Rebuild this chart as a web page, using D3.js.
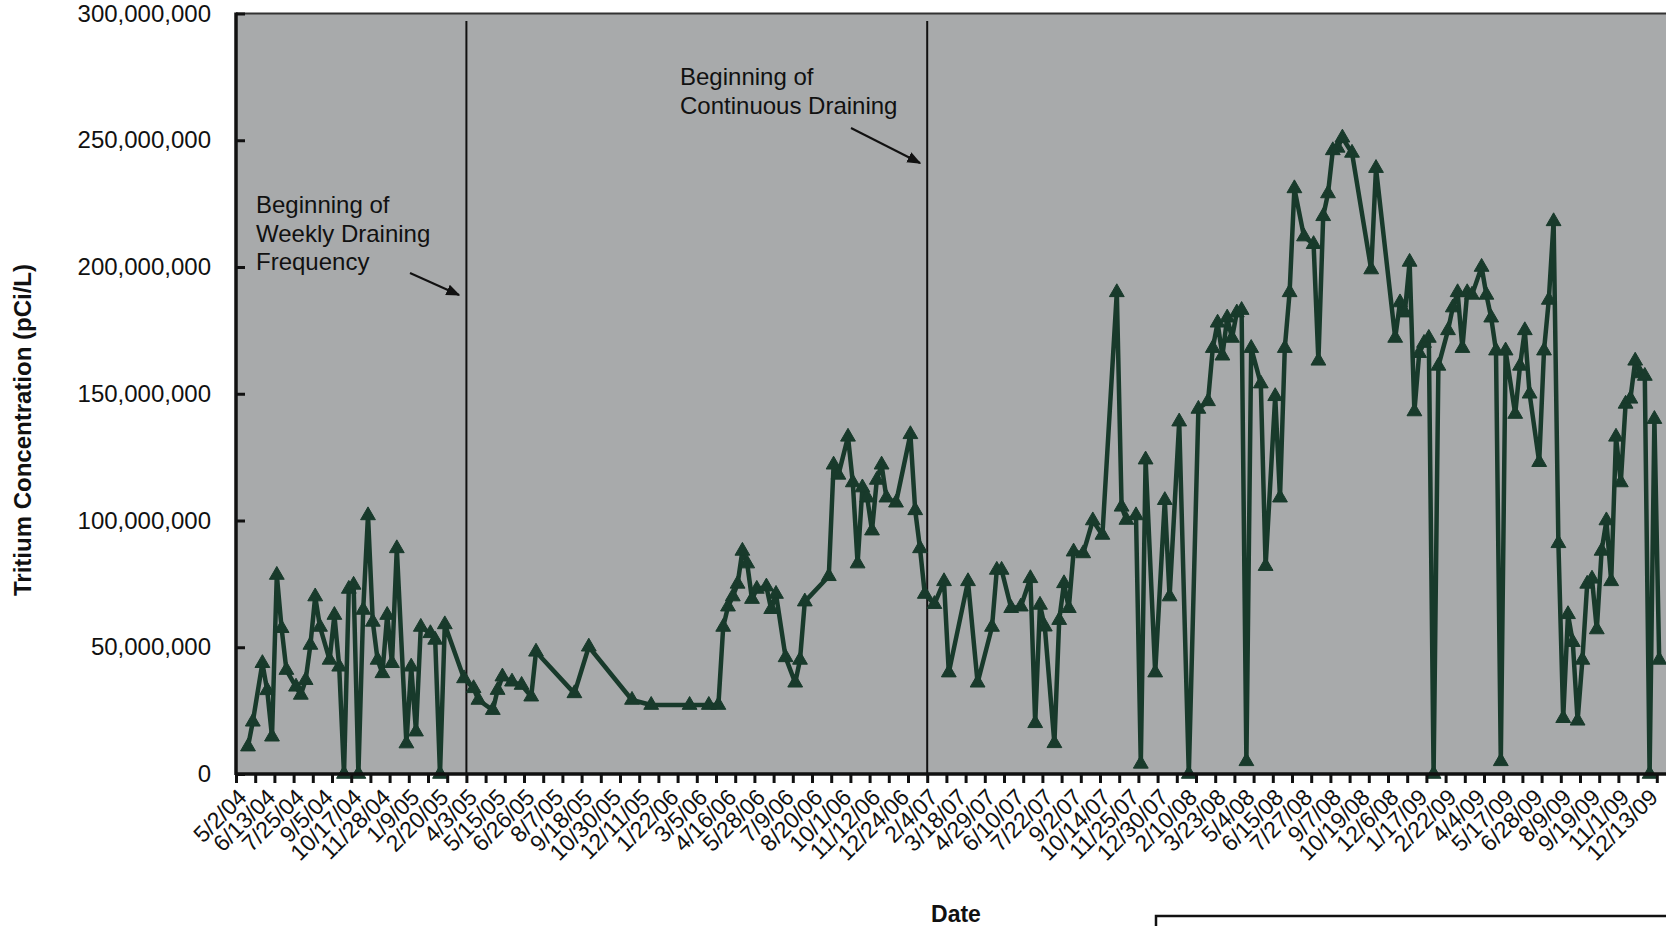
<!DOCTYPE html>
<html>
<head>
<meta charset="utf-8">
<script src="https://cdn.jsdelivr.net/npm/d3@7"></script>
<style>
  html, body { margin: 0; padding: 0; background: #ffffff; overflow: hidden; }
  svg { display: block; }
  text { font-family: "Liberation Sans", Arial, sans-serif; fill: #111; }
</style>
</head>
<body>
<svg id="chart" width="1666" height="926"></svg>
<script>
// ---------------- data ----------------
const tickLabels = ["5/2/04","6/13/04","7/25/04","9/5/04","10/17/04","11/28/04","1/9/05","2/20/05","4/3/05","5/15/05","6/26/05","8/7/05","9/18/05","10/30/05","12/11/05","1/22/06","3/5/06","4/16/06","5/28/06","7/9/06","8/20/06","10/1/06","11/12/06","12/24/06","2/4/07","3/18/07","4/29/07","6/10/07","7/22/07","9/2/07","10/14/07","11/25/07","12/30/07","2/10/08","3/23/08","5/4/08","6/15/08","7/27/08","9/7/08","10/19/08","12/6/08","1/17/09","2/22/09","4/4/09","5/17/09","6/28/09","8/9/09","9/19/09","11/1/09","12/13/09"];
const labelEvery = 6;          // one date label every 6 weekly categories
const tickEvery = 4;           // one tick mark every 4 categories
const categoryCount = 300;     // weekly sample slots on the category axis

// weekly sample slot of each measured point
const sampleSlot = [2,3,5,6,7,8,9,10,12,13,14,15,16,17,19,20,21,22,23,24,25,26,27,28,29,30,31,32,33,35,36,37,38,40,41,42,43,47,49,50,53,54,55,57,59,61,62,70,73,82,86,94,98,100,101,102,103,104,105,106,107,108,110,111,112,114,116,117,118,123,124,125,127,128,129,130,131,132,133,134,135,137,140,141,142,143,145,147,148,152,154,157,158,159,161,163,165,166,167,168,170,171,172,173,174,176,178,180,183,184,185,187,188,189,191,193,194,196,198,200,202,203,204,205,206,207,208,209,210,211,213,214,216,217,218,219,220,222,224,225,226,227,228,229,230,232,236,237,241,242,243,244,245,246,247,248,249,250,252,253,254,255,256,257,259,260,261,262,263,264,266,267,268,269,271,272,273,274,275,276,277,278,279,280,281,282,283,284,285,286,287,288,289,290,291,292,293,294,295,296];
// tritium concentration, pCi/L
const tritium = [10800000,20600000,43700000,33000000,14700000,78500000,57500000,41000000,34400000,31200000,37000000,50900000,70000000,58000000,45000000,62700000,42300000,0,73000000,74600000,0,64700000,102000000,60000000,45000000,39700000,62700000,43700000,89000000,12000000,42300000,16700000,58000000,55500000,52900000,0,59000000,37700000,33800000,29200000,25200000,33100000,38400000,36400000,35100000,30500000,48200000,31800000,50200000,29200000,27200000,27200000,27200000,27200000,58000000,66000000,70000000,75000000,88000000,83000000,69000000,73000000,73900000,65000000,71000000,46000000,36000000,45000000,68000000,78000000,122000000,118000000,133000000,115000000,83000000,113000000,109000000,96000000,116000000,122000000,109000000,107000000,134000000,104000000,89000000,71000000,67000000,76000000,40000000,76000000,36000000,58000000,80500000,80500000,65400000,66000000,77200000,20000000,66700000,58100000,12100000,60700000,75200000,65400000,87700000,87000000,100000000,94300000,190000000,105400000,100200000,102000000,4000000,124000000,40000000,108000000,70000000,139000000,0,144000000,147000000,168000000,178000000,165000000,180000000,172000000,182000000,183000000,5000000,168000000,154000000,82000000,149000000,109000000,168000000,190000000,231000000,212000000,209000000,163000000,220000000,229000000,246000000,247000000,251000000,245000000,199000000,239000000,172000000,186000000,182000000,202000000,143000000,166000000,170000000,172000000,0,161000000,175000000,184000000,190000000,168000000,190000000,189000000,200000000,189000000,180000000,167000000,5000000,167000000,142000000,161000000,175000000,150000000,123000000,167000000,187000000,218000000,91000000,22000000,63000000,52000000,21000000,45000000,75000000,77000000,57000000,88000000,100000000,76000000,133000000,115000000,146000000,148000000,163000000,158000000,157000000,0,140000000,45000000];

const yTicks = [0,50000000,100000000,150000000,200000000,250000000,300000000];
const markerSlots = [48, 144];   // vertical reference lines: 4/3/05 and 2/4/07
const annotations = [
  {lines:["Beginning of","Weekly Draining","Frequency"], x:256, y:213, from:[410,273], to:[459,295]},
  {lines:["Beginning of","Continuous Draining"], x:680, y:85, from:[851,128], to:[920,163]}
];

// ---------------- layout ----------------
const pL = 236, pT = 13.5, pB = 774, catW = 4.8;
const pR = pL + categoryCount * catW;
const svg = d3.select("#chart");

const xBand = d3.scaleBand().domain(d3.range(categoryCount)).range([pL, pR]).paddingInner(0).paddingOuter(0);
const xEdge = d3.scaleLinear().domain([0, categoryCount]).range([pL, pR]);
const y = d3.scaleLinear().domain([0, 300000000]).range([pB, pT]);
const cx = i => xBand(i) + xBand.bandwidth() / 2;

// plot area
svg.append("rect").attr("x", pL).attr("y", pT).attr("width", pR - pL).attr("height", pB - pT)
  .attr("fill", "#a8aaab");
svg.append("line").attr("x1", pL).attr("x2", pR).attr("y1", pT).attr("y2", pT)
  .attr("stroke", "#333").attr("stroke-width", 2);

// reference vertical lines
svg.selectAll("line.ref").data(markerSlots).enter().append("line").attr("class", "ref")
  .attr("x1", d => xEdge(d)).attr("x2", d => xEdge(d))
  .attr("y1", 21).attr("y2", pB)
  .attr("stroke", "#111").attr("stroke-width", 2);

// data line
const pts = sampleSlot.map((s, i) => ({s, v: tritium[i]}));
const line = d3.line().x(d => cx(d.s)).y(d => y(d.v));
const col = "#183a2b";
svg.append("path").datum(pts).attr("d", line)
  .attr("fill", "none").attr("stroke", col).attr("stroke-width", 4.5).attr("stroke-linejoin", "round");
const tri = d3.symbol().type(d3.symbolTriangle).size(95);
svg.selectAll("path.mk").data(pts).enter().append("path").attr("class", "mk")
  .attr("d", tri).attr("transform", d => `translate(${cx(d.s)},${y(d.v)})`)
  .attr("fill", col).attr("stroke", col).attr("stroke-width", 1);

// y axis
const yAxis = d3.axisLeft(y).tickValues(yTicks).tickFormat(d3.format(",")).tickSize(-9).tickPadding(25);
const gy = svg.append("g").attr("transform", `translate(${pL},0)`).call(yAxis);
gy.select(".domain").remove();
gy.selectAll(".tick line").attr("stroke", "#111").attr("stroke-width", 3);
gy.selectAll(".tick text").attr("font-size", 24).attr("font-family", "Liberation Sans, Arial, sans-serif").attr("fill", "#111");
svg.append("line").attr("x1", pL).attr("x2", pL).attr("y1", pT - 1).attr("y2", pB + 1)
  .attr("stroke", "#111").attr("stroke-width", 3.5);

// x axis ticks
const xTickAxis = d3.axisBottom(xEdge).tickValues(d3.range(0, categoryCount + 1, tickEvery)).tickFormat("").tickSize(9);
const gx = svg.append("g").attr("transform", `translate(0,${pB})`).call(xTickAxis);
gx.select(".domain").remove();
gx.selectAll(".tick line").attr("stroke", "#111").attr("stroke-width", 3);
svg.append("line").attr("x1", pL - 1).attr("x2", pR).attr("y1", pB).attr("y2", pB)
  .attr("stroke", "#111").attr("stroke-width", 3.5);

// x labels
const labelSlots = tickLabels.map((t, k) => k * labelEvery);
const xLabAxis = d3.axisBottom(xBand).tickValues(labelSlots).tickFormat(d => tickLabels[d / labelEvery]).tickSize(0).tickPadding(0);
const gl = svg.append("g").attr("transform", `translate(0,${pB})`).call(xLabAxis);
gl.select(".domain").remove();
gl.selectAll(".tick text")
  .attr("font-size", 23).attr("font-family", "Liberation Sans, Arial, sans-serif").attr("fill", "#111")
  .attr("text-anchor", "end").attr("y", 0).attr("dy", "0.35em")
  .attr("transform", "translate(4,19) rotate(-45)");

// axis titles
svg.append("text").attr("transform", "translate(31,430) rotate(-90)").attr("text-anchor", "middle")
  .attr("font-size", 24).attr("font-weight", "bold").text("Tritium Concentration (pCi/L)");
svg.append("text").attr("x", 956).attr("y", 922).attr("text-anchor", "middle")
  .attr("font-size", 23).attr("font-weight", "bold").text("Date");

// annotations
const defs = svg.append("defs");
defs.append("marker").attr("id", "ah").attr("viewBox", "0 0 10 10").attr("refX", 9).attr("refY", 5)
  .attr("markerWidth", 7).attr("markerHeight", 7).attr("orient", "auto")
  .append("path").attr("d", "M0,1 L10,5 L0,9 z").attr("fill", "#111");
annotations.forEach(a => {
  const t = svg.append("text").attr("x", a.x).attr("y", a.y).attr("font-size", 24);
  a.lines.forEach((l, i) => t.append("tspan").attr("x", a.x).attr("dy", i ? 28.5 : 0).text(l));
  svg.append("line").attr("x1", a.from[0]).attr("y1", a.from[1]).attr("x2", a.to[0]).attr("y2", a.to[1])
    .attr("stroke", "#111").attr("stroke-width", 2).attr("marker-end", "url(#ah)");
});

// legend frame (cut off at the bottom edge)
svg.append("rect").attr("x", 1156).attr("y", 916).attr("width", 600).attr("height", 60)
  .attr("fill", "none").attr("stroke", "#111").attr("stroke-width", 2.5);
</script>
</body>
</html>
